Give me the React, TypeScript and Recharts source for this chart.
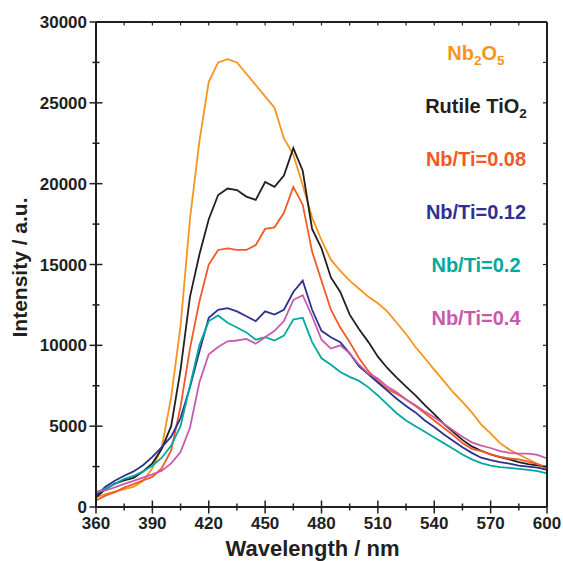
import { LineChart, Line, XAxis, YAxis, Legend } from "recharts";

// wavelength in nm
const wavelengths = [
  360, 365, 370, 375, 380, 385, 390, 395, 400, 405, 410, 415, 420, 425, 430,
  435, 440, 445, 450, 455, 460, 465, 470, 475, 480, 485, 490, 495, 500, 505,
  510, 515, 520, 525, 530, 535, 540, 545, 550, 555, 560, 565, 570, 575, 580,
  585, 590, 595, 600,
];

const nb2o5 = [
  600, 800, 950, 1100, 1250, 1600, 2400, 3700, 6800, 11200, 17800, 22600,
  26300, 27500, 27700, 27500, 26800, 26100, 25400, 24700, 22800, 21800, 19900,
  17900, 16500, 15300, 14600, 14000, 13500, 13000, 12600, 12100, 11400, 10700,
  9900, 9200, 8500, 7800, 7100, 6500, 5850, 5100, 4550, 3950, 3550, 3250, 2950,
  2650, 2300,
];
const rutile = [
  600, 1100, 1450, 1650, 1800, 2200, 2700, 3600, 5000, 8500, 13000, 15600,
  17800, 19300, 19700, 19600, 19200, 19000, 20100, 19800, 20500, 22200, 20800,
  17200, 16000, 14200, 13300, 11900, 11000, 10200, 9300, 8600, 8000, 7450,
  6900, 6300, 5750, 5150, 4650, 4150, 3750, 3480, 3250, 3090, 2950, 2780, 2650,
  2580, 2500,
];
const nbti008 = [
  400, 700, 920, 1200, 1420, 1650, 1860, 2400, 3500, 6200, 9800, 12700, 15000,
  15900, 16000, 15900, 15900, 16200, 17200, 17300, 18200, 19800, 18700, 15800,
  14000, 12200, 11100, 10200, 9200, 8400, 7800, 7300, 7000, 6650, 6250, 5800,
  5350, 4900, 4450, 3950, 3600, 3450, 3250, 3100, 3000, 2950, 2800, 2650, 2450,
];
const nbti012 = [
  700, 1250, 1620, 1930, 2200, 2580, 3100, 3700, 4350, 5500, 7400, 9600, 11700,
  12200, 12300, 12100, 11800, 11500, 12100, 11900, 12200, 13300, 14000, 12200,
  10900, 10500, 10200, 9500, 8700, 8200, 7700, 7200, 6700, 6250, 5850, 5350,
  4950, 4500, 4100, 3700, 3350, 3050, 2900, 2780, 2680, 2560, 2500, 2430, 2300,
];
const nbti02 = [
  900, 1140, 1420, 1740, 1920, 2200, 2550, 3050, 3800, 5000, 7500, 10000,
  11500, 11850, 11400, 11100, 10800, 10350, 10500, 10300, 10600, 11600, 11700,
  10200, 9200, 8800, 8350, 8050, 7800, 7400, 6900, 6350, 5800, 5350, 5000,
  4650, 4300, 3950, 3600, 3250, 2950, 2720, 2560, 2470, 2420, 2360, 2300, 2220,
  2080,
];
const nbti04 = [
  930, 1030, 1220, 1430, 1620, 1820, 2020, 2250, 2700, 3400, 4900, 7700, 9450,
  9900, 10250, 10300, 10400, 10100, 10500, 10900, 11500, 12800, 13100, 11800,
  10350, 9800, 10000, 9500, 8800, 8250, 7950, 7450, 7100, 6650, 6300, 5900,
  5550, 5150, 4750, 4350, 4000, 3800, 3650, 3450, 3350, 3300, 3300, 3220, 3000,
];

const seriesNames = [
  "Nb2O5",
  "Rutile TiO2",
  "Nb/Ti=0.08",
  "Nb/Ti=0.12",
  "Nb/Ti=0.2",
  "Nb/Ti=0.4",
];
const seriesColors = [
  "#f7941d",
  "#231f20",
  "#f15a24",
  "#2e3192",
  "#00a99d",
  "#c95aab",
];
const seriesValues = [nb2o5, rutile, nbti008, nbti012, nbti02, nbti04];

const xTicks = [
  360, 375, 390, 405, 420, 435, 450, 465, 480, 495, 510, 525, 540, 555, 570,
  585, 600,
];
const yTicks = [
  0, 2500, 5000, 7500, 10000, 12500, 15000, 17500, 20000, 22500, 25000, 27500,
  30000,
];

const data = wavelengths.map((w, i) => {
  const row: Record<string, number> = { w };
  seriesValues.forEach((s, k) => {
    row["s" + k] = s[i];
  });
  return row;
});

// the chart fills the window exactly: drop the body margin, pad ourselves
if (typeof document !== "undefined") {
  document.body.style.margin = "0";
  document.documentElement.style.overflow = "hidden";
}

const ink = "#231f20";
const font = "'Liberation Sans', Arial, Helvetica, sans-serif";

function BottomTick(props: any) {
  const { x, y, payload } = props;
  const major = payload.value % 30 === 0;
  const len = major ? 6.5 : 3.5;
  return (
    <g>
      <line x1={x} x2={x} y1={y - len} y2={y + len} stroke={ink} strokeWidth={1.5} />
      {major && (
        <text x={x} y={y + 22} textAnchor="middle" fill={ink} fontSize={17} fontWeight="bold" fontFamily={font}>
          {payload.value}
        </text>
      )}
    </g>
  );
}

function TopTick(props: any) {
  const { x, y } = props;
  return <line x1={x} x2={x} y1={y} y2={y + 3.5} stroke={ink} strokeWidth={1.2} />;
}

function LeftTick(props: any) {
  const { x, y, payload } = props;
  const major = payload.value % 5000 === 0;
  const len = major ? 6.5 : 3.5;
  return (
    <g>
      <line x1={x - len} x2={x + len} y1={y} y2={y} stroke={ink} strokeWidth={1.5} />
      {major && (
        <text x={x - 9} y={y + 6} textAnchor="end" fill={ink} fontSize={17} fontWeight="bold" fontFamily={font}>
          {payload.value}
        </text>
      )}
    </g>
  );
}

function RightTick(props: any) {
  const { x, y } = props;
  return <line x1={x - 4} x2={x} y1={y} y2={y} stroke={ink} strokeWidth={1.2} />;
}

function withSubscripts(name: string) {
  const parts = name.split(/(?<=[A-Za-z])(\d)/);
  return parts.map((p, i) =>
    i % 2 === 1 ? (
      <sub key={i} style={{ fontSize: "0.68em", verticalAlign: "-0.35em" }}>
        {p}
      </sub>
    ) : (
      <span key={i}>{p}</span>
    )
  );
}

function LegendBox() {
  return (
    <div style={{ fontFamily: font, fontWeight: "bold", fontSize: 20, textAlign: "center" }}>
      {seriesNames.map((name, k) => (
        <div key={name} style={{ height: 53, lineHeight: "53px", color: seriesColors[k], whiteSpace: "nowrap" }}>
          {withSubscripts(name)}
        </div>
      ))}
    </div>
  );
}

function XTitle(props: any) {
  const vb = props.viewBox;
  return (
    <text x={vb.x + vb.width / 2 - 9} y={vb.y + vb.height - 5} textAnchor="middle" fill={ink} fontSize={22} fontWeight="bold" fontFamily={font}>
      Wavelength / nm
    </text>
  );
}

function YTitle(props: any) {
  const vb = props.viewBox;
  const cx = vb.x + 11;
  const cy = vb.y + vb.height / 2 + 3;
  return (
    <text x={cx} y={cy} transform={`rotate(-90, ${cx}, ${cy})`} textAnchor="middle" dominantBaseline="central" fill={ink} fontSize={21} fontWeight="bold" fontFamily={font}>
      Intensity / a.u.
    </text>
  );
}

export default function App() {
  const axisLine = { stroke: ink, strokeWidth: 2 };
  return (
    <div style={{ padding: "8px 0 0 8px", width: 555, height: 553 }}>
      <LineChart width={555} height={553} data={data} margin={{ top: 13, right: 15, bottom: 0, left: 0 }}>
        <XAxis
          dataKey="w"
          type="number"
          domain={[360, 600]}
          ticks={xTicks}
          interval={0}
          height={54}
          tickSize={0}
          tickMargin={0}
          tickLine={false}
          axisLine={axisLine}
          tick={<BottomTick />}
          label={<XTitle />}
        />
        <XAxis
          xAxisId="top"
          orientation="top"
          dataKey="w"
          type="number"
          domain={[360, 600]}
          ticks={xTicks}
          interval={0}
          height={1}
          tickSize={0}
          tickMargin={0}
          tickLine={false}
          axisLine={axisLine}
          tick={<TopTick />}
        />
        <YAxis
          type="number"
          domain={[0, 30000]}
          ticks={yTicks}
          interval={0}
          width={88}
          tickSize={0}
          tickMargin={0}
          tickLine={false}
          axisLine={axisLine}
          tick={<LeftTick />}
          label={<YTitle />}
        />
        <YAxis
          yAxisId="right"
          orientation="right"
          type="number"
          domain={[0, 30000]}
          ticks={yTicks}
          interval={0}
          width={1}
          tickSize={0}
          tickMargin={0}
          tickLine={false}
          axisLine={axisLine}
          tick={<RightTick />}
        />
        <Legend
          layout="vertical"
          align="center"
          verticalAlign="middle"
          wrapperStyle={{ top: 19, left: 413, width: 110 }}
          content={<LegendBox />}
        />
        {seriesNames.map((name, k) => (
          <Line
            key={name}
            type="linear"
            dataKey={"s" + k}
            name={name}
            xAxisId={k === 0 ? "top" : 0}
            yAxisId={k === 0 ? "right" : 0}
            stroke={seriesColors[k]}
            strokeWidth={1.8}
            dot={false}
            isAnimationActive={false}
          />
        ))}
      </LineChart>
    </div>
  );
}
